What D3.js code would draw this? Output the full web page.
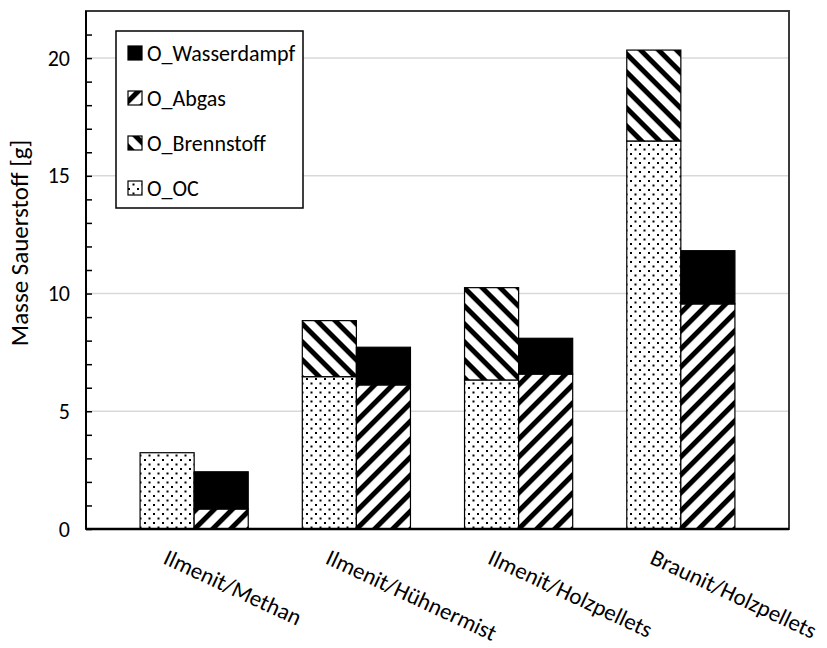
<!DOCTYPE html>
<html>
<head>
<meta charset="utf-8">
<script src="https://cdn.jsdelivr.net/npm/d3@7"></script>
<style>
  body { margin: 0; background: #fff; }
  svg { display: block; }
  text { font-family: Carlito, Lato, sans-serif; fill: #000; }
</style>
</head>
<body>
<svg id="chart" width="827" height="648"></svg>
<script>
// Oxygen mass balance per oxygen carrier / fuel combination [g]
const categories   = ["Ilmenit/Methan", "Ilmenit/Hühnermist", "Ilmenit/Holzpellets", "Braunit/Holzpellets"];
const oOC          = [3.24, 6.47, 6.33, 16.48];
const oBrennstoff  = [0.00, 2.38, 3.92, 3.86];
const oAbgas       = [0.85, 6.12, 6.58, 9.56];
const oWasserdampf = [1.58, 1.60, 1.52, 2.26];
const yTickValues  = [0, 5, 10, 15, 20];
const legendLabels = ["O_Wasserdampf", "O_Abgas", "O_Brennstoff", "O_OC"];
const legendFills  = ["wasserdampf", "abgas", "brennstoff", "oc"];

const svg = d3.select("#chart");
const plot = { left: 86, right: 789, top: 11, bottom: 529 };

// 13 equal slots: gap, bar, bar, gap, bar, bar, ... , gap
const slots = d3.range(categories.length * 3 + 1);
const x = d3.scaleBand().domain(slots).range([plot.left, plot.right]).padding(0);
const y = d3.scaleLinear().domain([0, 22]).range([plot.bottom, plot.top]);

// ---- fill patterns ----
const defs = svg.append("defs");

const dots = defs.append("pattern").attr("id", "oc")
  .attr("patternUnits", "userSpaceOnUse").attr("width", 9).attr("height", 9);
dots.append("rect").attr("width", 9).attr("height", 9).attr("fill", "#fff");
dots.append("rect").attr("x", 0).attr("y", 0).attr("width", 2).attr("height", 2).attr("fill", "#000");
dots.append("rect").attr("x", 4.5).attr("y", 4.5).attr("width", 2).attr("height", 2).attr("fill", "#000");

function stripes(id, angle) {
  const p = 12.73;
  const pat = defs.append("pattern").attr("id", id)
    .attr("patternUnits", "userSpaceOnUse").attr("width", p).attr("height", p)
    .attr("patternTransform", `rotate(${angle})`);
  pat.append("rect").attr("width", p).attr("height", p).attr("fill", "#fff");
  pat.append("rect").attr("width", p).attr("height", 5).attr("fill", "#000");
}
stripes("brennstoff", 45);   // downward diagonal
stripes("abgas", -45);       // upward diagonal
const fillOf = k => k === "wasserdampf" ? "#000" : `url(#${k})`;

// ---- gridlines ----
svg.append("g").selectAll("line")
  .data(yTickValues.filter(v => v > 0))
  .join("line")
  .attr("x1", plot.left).attr("x2", plot.right)
  .attr("y1", d => y(d)).attr("y2", d => y(d))
  .attr("stroke", "#d9d9d9").attr("stroke-width", 1.5);

// ---- bars ----
const segments = [];
categories.forEach((c, i) => {
  const a = 3 * i + 1, b = 3 * i + 2;
  segments.push({ slot: a, y0: 0, y1: oOC[i], key: "oc" });
  segments.push({ slot: a, y0: oOC[i], y1: oOC[i] + oBrennstoff[i], key: "brennstoff" });
  segments.push({ slot: b, y0: 0, y1: oAbgas[i], key: "abgas" });
  segments.push({ slot: b, y0: oAbgas[i], y1: oAbgas[i] + oWasserdampf[i], key: "wasserdampf" });
});
svg.append("g").selectAll("rect")
  .data(segments.filter(s => s.y1 > s.y0))
  .join("rect")
  .attr("x", d => x(d.slot))
  .attr("width", x.bandwidth())
  .attr("y", d => y(d.y1))
  .attr("height", d => y(d.y0) - y(d.y1))
  .attr("fill", d => fillOf(d.key))
  .attr("stroke", "#000").attr("stroke-width", 1.2);

// ---- plot frame ----
svg.append("rect")
  .attr("x", plot.left).attr("y", plot.top)
  .attr("width", plot.right - plot.left).attr("height", plot.bottom - plot.top)
  .attr("fill", "none").attr("stroke", "#3a3a3a").attr("stroke-width", 2);

// ---- y axis: minor inner ticks + labels ----
const minor = svg.append("g").attr("transform", `translate(${plot.left},0)`)
  .call(d3.axisLeft(y).tickValues(d3.range(0, 22)).tickSize(-6).tickFormat(""));
minor.select(".domain").remove();
minor.selectAll(".tick line").attr("stroke", "#000").attr("stroke-width", 1.5);

const yAxis = svg.append("g").attr("transform", `translate(${plot.left},0)`)
  .call(d3.axisLeft(y).tickValues(yTickValues).tickSize(0).tickPadding(16));
yAxis.select(".domain").remove();
yAxis.selectAll("text").attr("font-size", 22).attr("font-family", "Carlito, Lato, sans-serif").attr("fill", "#000");

// axis lines
svg.append("line").attr("x1", plot.left).attr("x2", plot.left)
  .attr("y1", plot.top).attr("y2", plot.bottom).attr("stroke", "#000").attr("stroke-width", 2);
svg.append("line").attr("x1", plot.left).attr("x2", plot.right)
  .attr("y1", plot.bottom).attr("y2", plot.bottom).attr("stroke", "#000").attr("stroke-width", 2.5);

// ---- category labels ----
svg.append("g").selectAll("text")
  .data(categories)
  .join("text")
  .attr("transform", (d, i) => `translate(${x(3 * i + 1) + x.bandwidth() / 2 - 5},563) rotate(25)`)
  .attr("font-size", 23)
  .text(d => d);

// ---- y axis title ----
svg.append("text")
  .attr("transform", `translate(28,243) rotate(-90)`)
  .attr("text-anchor", "middle")
  .attr("font-size", 25)
  .text("Masse Sauerstoff [g]");

// ---- legend ----
const lg = svg.append("g");
lg.append("rect").attr("x", 116).attr("y", 31).attr("width", 187).attr("height", 177)
  .attr("fill", "#fff").attr("stroke", "#000").attr("stroke-width", 1.5);
const items = lg.selectAll("g.item").data(legendLabels).join("g")
  .attr("class", "item")
  .attr("transform", (d, i) => `translate(128,${53 + i * 45})`);
items.append("rect").attr("x", 0).attr("y", -7).attr("width", 14).attr("height", 14)
  .attr("fill", (d, i) => fillOf(legendFills[i])).attr("stroke", "#000").attr("stroke-width", 1.2);
items.append("text").attr("x", 19).attr("y", 8).attr("font-size", 22).text(d => d);
</script>
</body>
</html>
